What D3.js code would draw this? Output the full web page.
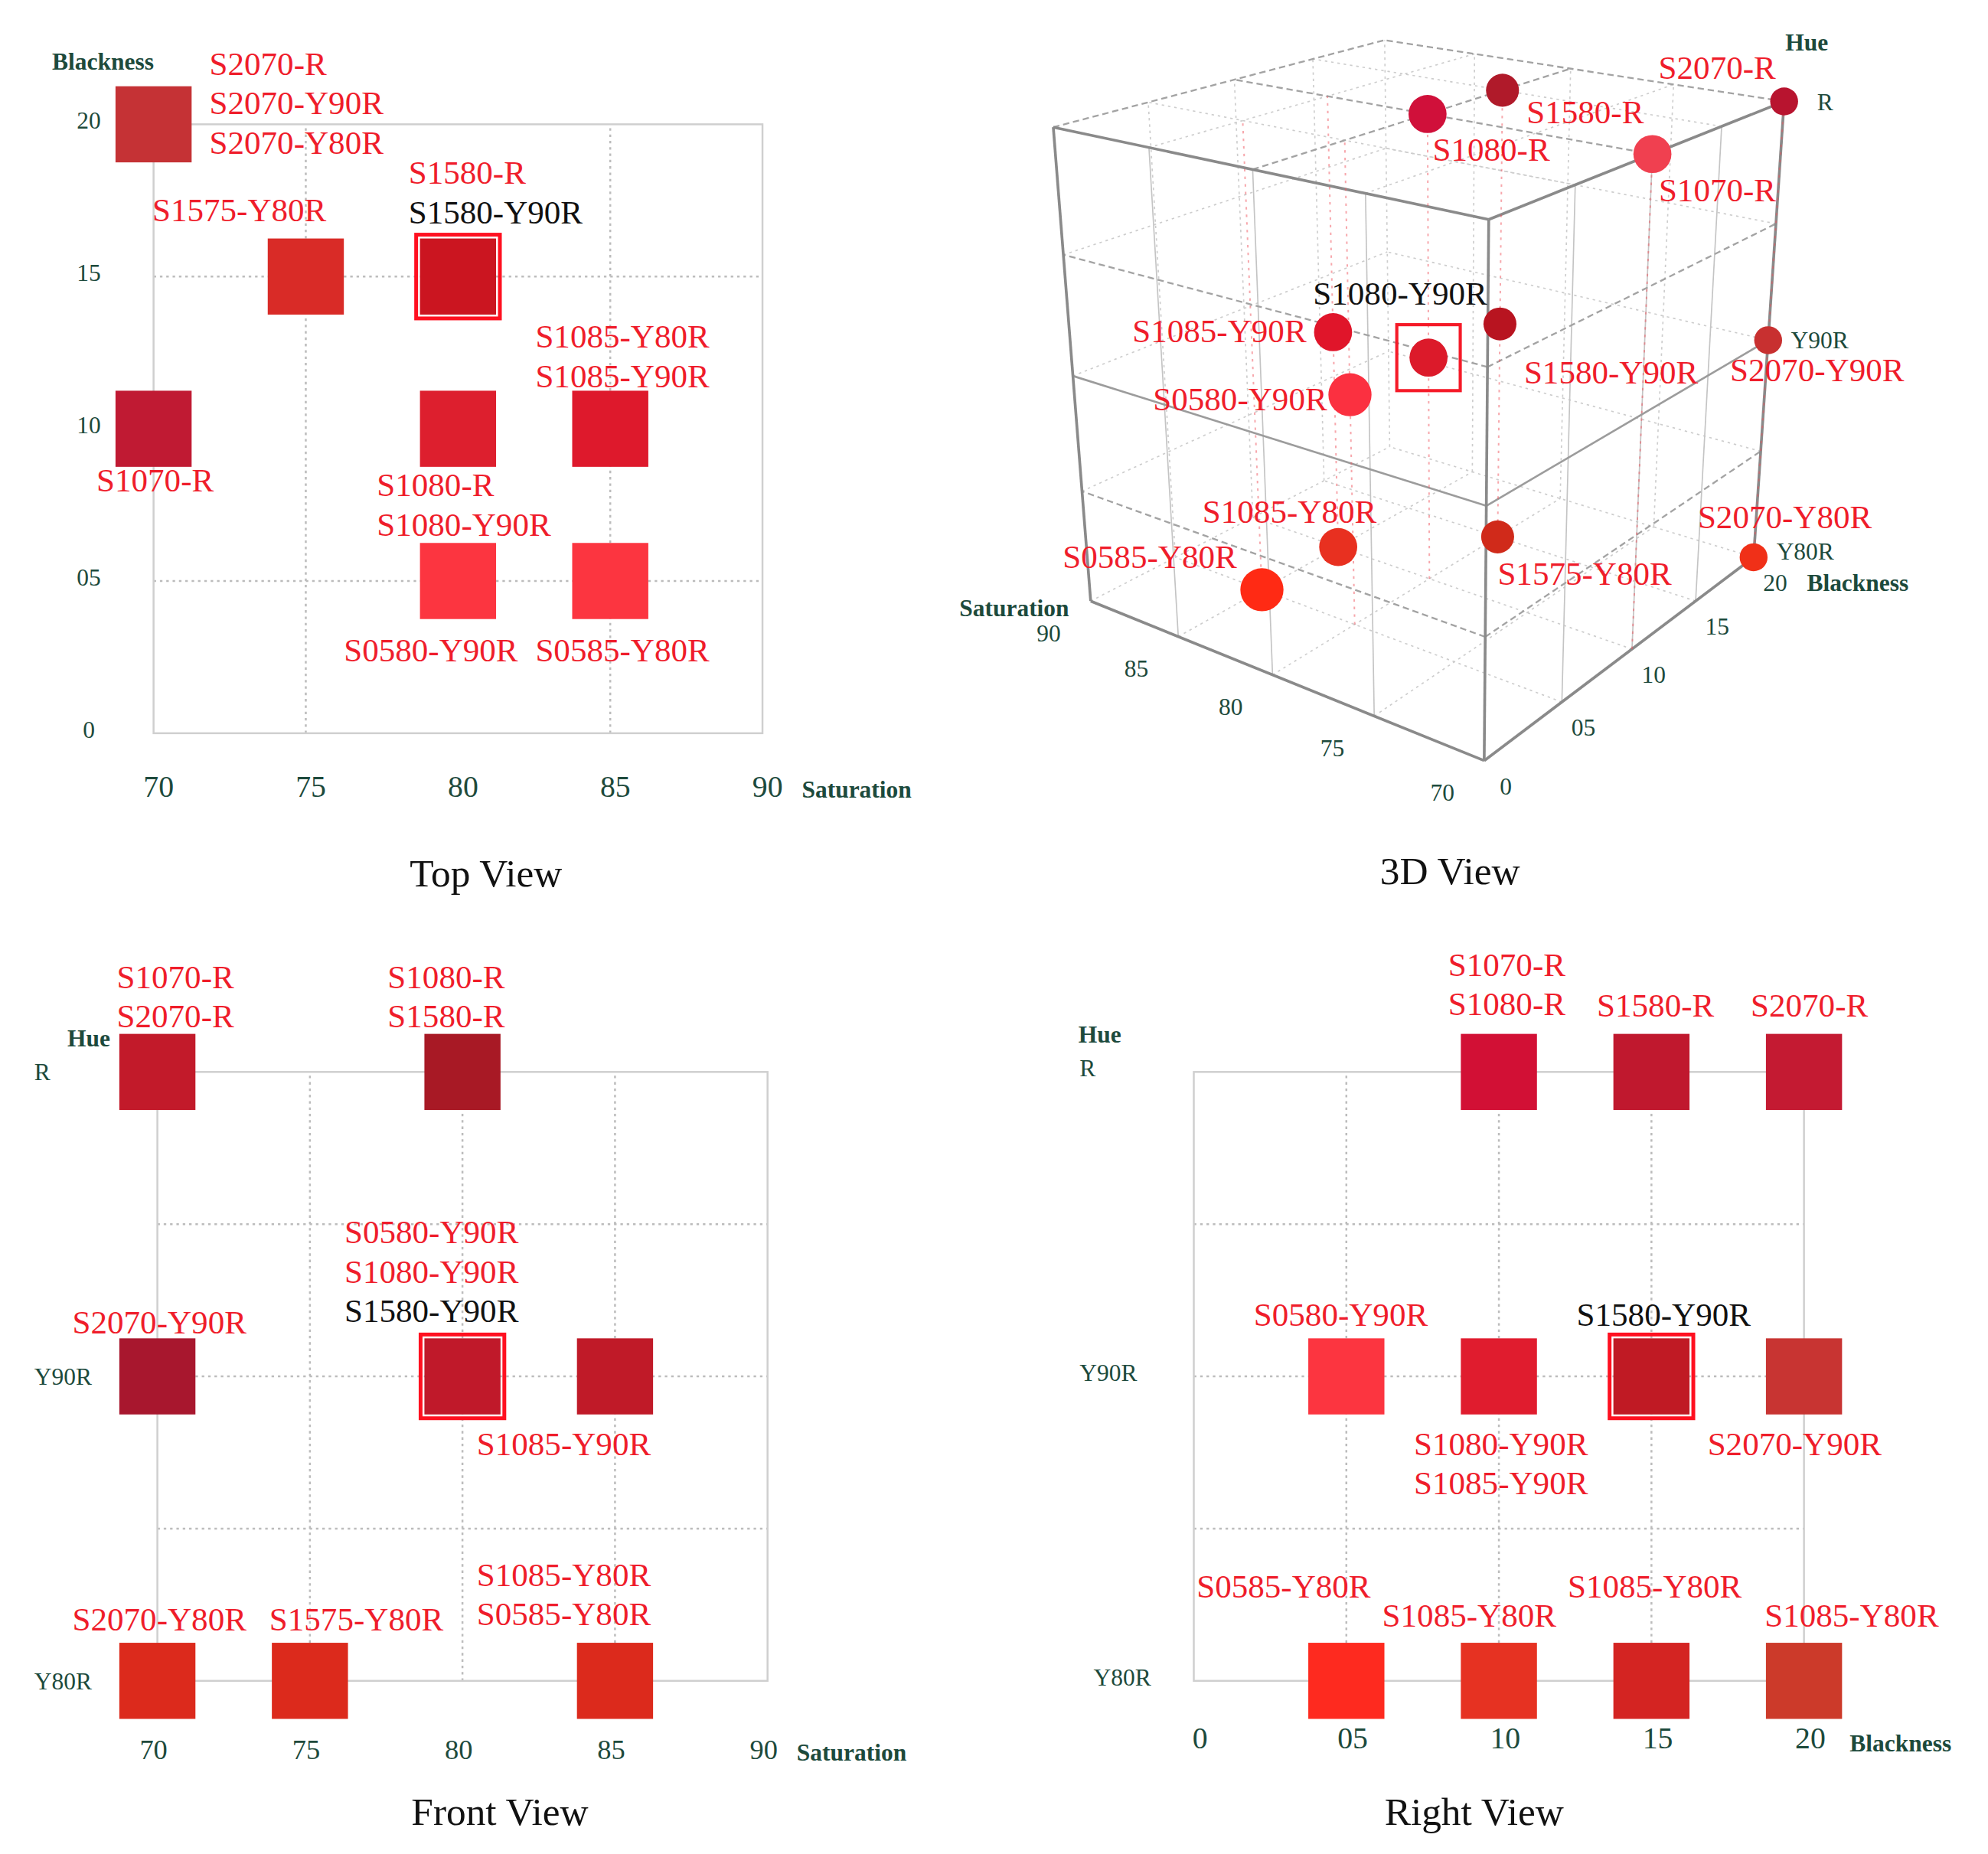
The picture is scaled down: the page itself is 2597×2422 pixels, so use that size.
<!DOCTYPE html>
<html>
<head>
<meta charset="utf-8">
<script src="https://cdn.jsdelivr.net/npm/d3@7/dist/d3.min.js"></script>
<style>
  body { margin: 0; background: #fff; }
  svg { display: block; }
</style>
</head>
<body>
<svg id="chart"></svg>
<script>
// NCS samples: blackness, saturation (chromaticness), hue
const samples    = ["S2070-R","S2070-Y90R","S2070-Y80R","S1580-R","S1580-Y90R","S1575-Y80R","S1085-Y80R","S1085-Y90R","S1070-R","S1080-R","S1080-Y90R","S0580-Y90R","S0585-Y80R"]
const saturation = [70, 70, 70, 80, 80, 75, 85, 85, 70, 80, 80, 80, 85]
const blackness  = [20, 20, 20, 15, 15, 15, 10, 10, 10, 10, 10, 5, 5]
const hue        = ["R","Y90R","Y80R","R","Y90R","Y80R","Y80R","Y90R","R","R","Y90R","Y90R","Y80R"]
// saturation at which each dot sits in the 3D view (S1575-Y80R is drawn in the 80 column there)
const saturation3D = [70, 70, 70, 80, 80, 80, 85, 85, 70, 80, 80, 80, 85]
const dotColors  = ["#b8142f","#c83030","#f03018","#b01a2a","#b81420","#d02a1a","#e83020","#e0152a","#f04050","#d0103a","#dc1a2a","#fb3040","#ff2a14"]

const hueLevels  = ["Y80R","Y90R","R"]
const satTicks   = [70, 75, 80, 85, 90]
const blackTicks = [0, 5, 10, 15, 20]
const highlightName = "S1580-Y90R"
const highlight3D   = "S1080-Y90R"

// square colours seen in each flat view
const topColors   = {"70|20":"#c53235","75|15":"#d92b27","80|15":"#cb1520","70|10":"#c01a33","80|10":"#dd1f2e","85|10":"#de192c","80|5":"#fc3540","85|5":"#fc3540"}
const frontColors = {"70|R":"#c21a2a","80|R":"#a81925","70|Y90R":"#a8172e","80|Y90R":"#c0192a","85|Y90R":"#c01a28","70|Y80R":"#dc2a1c","75|Y80R":"#dc2a1c","85|Y80R":"#dc2a1c"}
const rightColors = {"10|R":"#d21035","15|R":"#c0182e","20|R":"#c41a32","5|Y90R":"#fc3540","10|Y90R":"#e01c2e","15|Y90R":"#c01a24","20|Y90R":"#c83432","5|Y80R":"#fe2a1f","10|Y80R":"#e63222","15|Y80R":"#d42422","20|Y80R":"#cc3a2a"}

// label texts as printed in each view
const topLabels = [
  {at:[70,20], text:["S2070-R","S2070-Y90R","S2070-Y80R"]},
  {at:[80,15], text:["S1580-R","S1580-Y90R"]},
  {at:[75,15], text:["S1575-Y80R"]},
  {at:[85,10], text:["S1085-Y80R","S1085-Y90R"]},
  {at:[70,10], text:["S1070-R"]},
  {at:[80,10], text:["S1080-R","S1080-Y90R"]},
  {at:[80,5],  text:["S0580-Y90R"]},
  {at:[85,5],  text:["S0585-Y80R"]}
]
const frontLabels = [
  {at:[70,"R"],    text:["S1070-R","S2070-R"]},
  {at:[80,"R"],    text:["S1080-R","S1580-R"]},
  {at:[80,"Y90R"], text:["S0580-Y90R","S1080-Y90R","S1580-Y90R"]},
  {at:[70,"Y90R"], text:["S2070-Y90R"]},
  {at:[85,"Y90R"], text:["S1085-Y90R"]},
  {at:[70,"Y80R"], text:["S2070-Y80R"]},
  {at:[75,"Y80R"], text:["S1575-Y80R"]},
  {at:[85,"Y80R"], text:["S1085-Y80R","S0585-Y80R"]}
]
const rightLabels = [
  {at:[10,"R"],    text:["S1070-R","S1080-R"]},
  {at:[15,"R"],    text:["S1580-R"]},
  {at:[20,"R"],    text:["S2070-R"]},
  {at:[5,"Y90R"],  text:["S0580-Y90R"]},
  {at:[15,"Y90R"], text:["S1580-Y90R"]},
  {at:[10,"Y90R"], text:["S1080-Y90R","S1085-Y90R"]},
  {at:[20,"Y90R"], text:["S2070-Y90R"]},
  {at:[5,"Y80R"],  text:["S0585-Y80R"]},
  {at:[10,"Y80R"], text:["S1085-Y80R"]},
  {at:[15,"Y80R"], text:["S1085-Y80R"]},
  {at:[20,"Y80R"], text:["S1085-Y80R"]}
]

// ---- layout (offsets of label blocks from their cell, in px) ----
const topLabelPos   = [[44,-48],[-39,-82],[-121,-53],[-59,-73],[-45,40],[-64,44],[-90,54],[-59,54]]
const frontLabelPos = [[-32,-75],[-59,-75],[-93,-114],[-67,-43],[-109,53],[-67,-49],[-32,-49],[-109,-84]]
const rightLabelPos = [[-40,-85],[-43,-53],[-42,-53],[-73,-49],[-59,-49],[-67,53],[-76,53],[-118,-75],[-92,-52],[-66,-75],[-31,-52]]
const dotLabelPos = {
  "S2070-R":[-99,-27,"start"], "S1580-R":[19,17,"start"], "S1080-R":[4,28,"start"], "S1070-R":[5,28,"start"],
  "S1080-Y90R":[-91,-51,"start"], "S1085-Y90R":[-21,-1,"end"], "S0580-Y90R":[-18,3,"end"],
  "S1580-Y90R":[19,38,"start"], "S2070-Y90R":[-30,23,"start"], "S1085-Y80R":[-107,-28,"start"],
  "S0585-Y80R":[-157,-26,"start"], "S1575-Y80R":[0,29,"start"], "S2070-Y80R":[-44,-32,"start"]
}
// projected cube corners of the 3D view: [u, v, w, x, y]
const cubeCorners = [
  [0,0,0,1170.4,599.5],[1,0,0,859.9,473.7],[0,1,0,1382.4,439.5],[1,1,0,1094.8,352.2],
  [0,0,1,1173.2,173.4],[1,0,1,829.8,100.2],[0,1,1,1406.0,79.5],[1,1,1,1092.3,31.8]
]

const SERIF = "'Liberation Serif','Times New Roman',serif"
const RED = "#ef1d2b", GREEN = "#1d4a3c", LINE = 31

const rows = samples.map((name, i) => ({
  name, sat: saturation[i], sat3: saturation3D[i], black: blackness[i], hue: hue[i], color: dotColors[i]
}))
const tickText = d => (d > 0 && d < 10) ? "0" + d : String(d)

const svg = d3.select("#chart")
  .attr("width", 2597).attr("height", 2422)
  .attr("viewBox", "0 0 1567 1461.5")
  .attr("font-family", SERIF)

function txt(g, x, y, s, size, fill, opts = {}) {
  return g.append("text")
    .attr("x", x).attr("y", y).attr("dy", "0.35em")
    .attr("font-size", size).attr("fill", fill)
    .attr("font-weight", opts.bold ? "bold" : null)
    .attr("text-anchor", opts.anchor || "start")
    .text(s)
}

// ---------- flat views ----------
function flatView(o) {
  const g = svg.append("g")
  const [x0, x1] = o.x.range(), [yb, yt] = o.yLin.range()

  g.selectAll("line.gx").data(o.xGrid).join("line")
      .attr("x1", o.x).attr("x2", o.x).attr("y1", yb).attr("y2", yt)
      .attr("stroke", "#bcbcbc").attr("stroke-width", 1.5).attr("stroke-dasharray", "2,3")
  g.selectAll("line.gy").data(o.yGrid).join("line")
      .attr("x1", x0).attr("x2", x1).attr("y1", o.yLin).attr("y2", o.yLin)
      .attr("stroke", "#bcbcbc").attr("stroke-width", 1.5).attr("stroke-dasharray", "2,3")
  g.append("rect")
      .attr("x", x0).attr("y", yt).attr("width", x1 - x0).attr("height", yb - yt)
      .attr("fill", "none").attr("stroke", "#cfcfcf").attr("stroke-width", 1.5)

  const cells = d3.groups(rows, o.key).map(([k, m]) => ({
    k, cx: o.x(o.xv(m[0])), cy: o.y(o.yv(m[0])), hl: m.some(d => d.name === highlightName)
  }))
  g.selectAll("rect.sq").data(cells).join("rect")
      .attr("x", d => d.cx - 30).attr("y", d => d.cy - 30)
      .attr("width", 60).attr("height", 60)
      .attr("fill", d => o.colors[d.k])
  g.selectAll("rect.hl").data(cells.filter(d => d.hl)).join("rect")
      .attr("x", d => d.cx - 33).attr("y", d => d.cy - 33)
      .attr("width", 66).attr("height", 66)
      .attr("fill", "none").attr("stroke", "#ff1020").attr("stroke-width", 3)

  o.labels.forEach((lab, i) => {
    const [dx, dy] = o.labelPos[i]
    const cx = o.x(lab.at[0]), cy = o.y(lab.at[1])
    lab.text.forEach((t, j) =>
      txt(g, cx + dx, cy + dy + j * LINE, t, 26, t === highlightName ? "#111" : RED))
  })
  return g
}

// Top view
{
  const x = d3.scaleLinear([70, 90], [121, 601])
  const y = d3.scaleLinear([0, 20], [578, 98])
  const g = flatView({x, y, yLin: y, xGrid: [75, 85], yGrid: [5, 15],
    key: d => d.sat + "|" + d.black, xv: d => d.sat, yv: d => d.black,
    colors: topColors, labels: topLabels, labelPos: topLabelPos})
  satTicks.forEach(t => txt(g, x(t) + 4, 620, t, 24, GREEN, {anchor: "middle"}))
  blackTicks.forEach(t => txt(g, 70, y(t) - 3, tickText(t), 19, GREEN, {anchor: "middle"}))
  txt(g, 41, 48, "Blackness", 19, GREEN, {bold: true})
  txt(g, 632, 622, "Saturation", 19, GREEN, {bold: true})
  txt(g, 383, 688, "Top View", 31, "#111", {anchor: "middle"})
}

// Front view
{
  const x = d3.scaleLinear([70, 90], [124, 605])
  const y = d3.scalePoint(hueLevels, [1325, 845])
  const yLin = d3.scaleLinear([0, 2], [1325, 845])
  const g = flatView({x, y, yLin, xGrid: [75, 80, 85], yGrid: [0.5, 1, 1.5],
    key: d => d.sat + "|" + d.hue, xv: d => d.sat, yv: d => d.hue,
    colors: frontColors, labels: frontLabels, labelPos: frontLabelPos})
  satTicks.forEach(t => txt(g, x(t) - 3, 1379, t, 22, GREEN, {anchor: "middle"}))
  hueLevels.forEach(h => txt(g, 27, y(h), h, 19, GREEN))
  txt(g, 53, 818, "Hue", 19, GREEN, {bold: true})
  txt(g, 628, 1381, "Saturation", 19, GREEN, {bold: true})
  txt(g, 394, 1428, "Front View", 31, "#111", {anchor: "middle"})
}

// Right view
{
  const x = d3.scaleLinear([0, 20], [941, 1422])
  const y = d3.scalePoint(hueLevels, [1325, 845])
  const yLin = d3.scaleLinear([0, 2], [1325, 845])
  const g = flatView({x, y, yLin, xGrid: [5, 10, 15], yGrid: [0.5, 1, 1.5],
    key: d => d.black + "|" + d.hue, xv: d => d.black, yv: d => d.hue,
    colors: rightColors, labels: rightLabels, labelPos: rightLabelPos})
  blackTicks.forEach(t => txt(g, x(t) + 5, 1370, tickText(t), 24, GREEN, {anchor: "middle"}))
  hueLevels.forEach(h => txt(g, h === "Y80R" ? 862 : 851, y(h) - 3, h, 19, GREEN))
  txt(g, 850, 815, "Hue", 19, GREEN, {bold: true})
  txt(g, 1458, 1374, "Blackness", 19, GREEN, {bold: true})
  txt(g, 1162, 1428, "Right View", 31, "#111", {anchor: "middle"})
}

// ---------- 3D view ----------
// perspective camera fitted (DLT, least squares) to the cube corners
function fitProjection(pts) {
  const cx = 1100, cy = 300, s = 300
  const A = [], b = []
  pts.forEach(([u, v, w, X, Y]) => {
    const x = (X - cx) / s, y = (Y - cy) / s
    A.push([u, v, w, 1, 0, 0, 0, 0, -x * u, -x * v, -x * w]); b.push(x)
    A.push([0, 0, 0, 0, u, v, w, 1, -y * u, -y * v, -y * w]); b.push(y)
  })
  const n = 11
  const M = d3.range(n).map(i => d3.range(n + 1).map(j =>
    j < n ? d3.sum(A, r => r[i] * r[j]) : d3.sum(A, (r, k) => r[i] * b[k])))
  for (let c = 0; c < n; c++) {
    let p = c
    for (let r = c + 1; r < n; r++) if (Math.abs(M[r][c]) > Math.abs(M[p][c])) p = r
    const tmp = M[c]; M[c] = M[p]; M[p] = tmp
    for (let r = 0; r < n; r++) {
      if (r === c) continue
      const f = M[r][c] / M[c][c]
      for (let k = c; k <= n; k++) M[r][k] -= f * M[c][k]
    }
  }
  const p = M.map((r, i) => r[n] / r[i])
  return (u, v, w) => {
    const d = p[8] * u + p[9] * v + p[10] * w + 1
    return [cx + s * (p[0] * u + p[1] * v + p[2] * w + p[3]) / d,
            cy + s * (p[4] * u + p[5] * v + p[6] * w + p[7]) / d]
  }
}

{
  const proj = fitProjection(cubeCorners)
  const su = d3.scaleLinear([70, 90], [0, 1])
  const bv = d3.scaleLinear([0, 20], [0, 1])
  const hw = d3.scalePoint(hueLevels, [0, 1])
  const rScale = d3.scaleLinear([5, 20], [17, 11])
  const g = svg.append("g")

  const q = [0.25, 0.5, 0.75]
  const faint = [], thin = [], dashed = [], mid = [], edges = []
  q.forEach(t => {
    faint.push([[t,0,0],[t,1,0]], [[0,t,0],[1,t,0]])        // floor
    faint.push([[1,t,0],[1,t,1]], [[1,0,t],[1,1,t]])        // back wall, sat 90
    faint.push([[t,1,0],[t,1,1]], [[0,1,t],[1,1,t]])        // back wall, blackness 20
    thin.push([[t,0,0],[t,0,1]], [[0,t,0],[0,t,1]])         // front walls, verticals
  })
  faint.push([[1,0,0],[1,1,0]], [[0,1,0],[1,1,0]], [[1,1,0],[1,1,1]])
  ;[0.25, 0.75].forEach(t => {
    faint.push([[t,0,1],[t,1,1]], [[0,t,1],[1,t,1]])        // top face
    dashed.push([[0,0,t],[1,0,t]], [[0,0,t],[0,1,t]])       // front walls
  })
  dashed.push([[0.5,0,1],[0.5,1,1]], [[0,0.5,1],[1,0.5,1]], [[1,0,1],[1,1,1]], [[0,1,1],[1,1,1]])
  mid.push([[0,0,0.5],[1,0,0.5]], [[0,0,0.5],[0,1,0.5]])
  edges.push([[0,0,0],[0,0,1]], [[1,0,0],[1,0,1]], [[0,1,0],[0,1,1]],
             [[0,0,1],[1,0,1]], [[0,0,1],[0,1,1]], [[0,0,0],[1,0,0]], [[0,0,0],[0,1,0]])

  const sets = [
    {segs: faint,  stroke: "#cdcdcd", w: 1,   dash: "2,3"},
    {segs: thin,   stroke: "#c4c4c4", w: 1,   dash: null},
    {segs: dashed, stroke: "#a3a3a3", w: 1.4, dash: "5,3"},
    {segs: mid,    stroke: "#9c9c9c", w: 1.6, dash: null},
    {segs: edges,  stroke: "#8a8a8a", w: 2.2, dash: null}
  ]
  sets.forEach(set => {
    g.append("g").selectAll("line").data(set.segs).join("line")
      .attr("x1", d => proj(...d[0])[0]).attr("y1", d => proj(...d[0])[1])
      .attr("x2", d => proj(...d[1])[0]).attr("y2", d => proj(...d[1])[1])
      .attr("stroke", set.stroke).attr("stroke-width", set.w)
      .attr("stroke-dasharray", set.dash)
  })

  // red dotted columns through the samples
  const columns = d3.groups(rows, d => d.sat3 + "|" + d.black).map(([, m]) => m[0])
  g.append("g").selectAll("line").data(columns).join("line")
    .attr("x1", d => proj(su(d.sat3), bv(d.black), 0)[0]).attr("y1", d => proj(su(d.sat3), bv(d.black), 0)[1])
    .attr("x2", d => proj(su(d.sat3), bv(d.black), 1)[0]).attr("y2", d => proj(su(d.sat3), bv(d.black), 1)[1])
    .attr("stroke", "#f0505a").attr("stroke-opacity", 0.5)
    .attr("stroke-width", 1.2).attr("stroke-dasharray", "2,4")

  const pos = d => proj(su(d.sat3), bv(d.black), hw(d.hue))
  const dots = rows.slice().sort((a, b) => b.black - a.black)
  g.append("g").selectAll("circle").data(dots).join("circle")
    .attr("cx", d => pos(d)[0]).attr("cy", d => pos(d)[1])
    .attr("r", d => rScale(d.black))
    .attr("fill", d => d.color)

  g.append("g").selectAll("rect").data(rows.filter(d => d.name === highlight3D)).join("rect")
    .attr("x", d => pos(d)[0] - 25).attr("y", d => pos(d)[1] - 26)
    .attr("width", 50).attr("height", 52)
    .attr("fill", "none").attr("stroke", "#f51a28").attr("stroke-width", 2.5)

  rows.forEach(d => {
    const [x, y] = pos(d), [dx, dy, anchor] = dotLabelPos[d.name]
    txt(g, x + dx, y + dy, d.name, 26, d.name === highlight3D ? "#111" : RED, {anchor})
  })

  // axes
  satTicks.forEach(t => {
    const [x, y] = proj(su(t), 0, 0)
    txt(g, x - 33, y + 25, t, 19, GREEN, {anchor: "middle"})
  })
  blackTicks.forEach(t => {
    const [x, y] = proj(0, bv(t), 0)
    txt(g, x + 17, y + 20, tickText(t), 19, GREEN, {anchor: "middle"})
  })
  const s90 = proj(1, 0, 0)
  txt(g, s90[0] - 17, s90[1] + 5, "Saturation", 19, GREEN, {bold: true, anchor: "end"})
  const b20 = proj(0, 1, 0)
  txt(g, b20[0] + 42, b20[1] + 20, "Blackness", 19, GREEN, {bold: true})
  hueLevels.forEach(h => {
    const [x, y] = proj(0, 1, hw(h))
    txt(g, x + (h === "R" ? 26 : 18), y + (h === "Y80R" ? -5 : 0), h, 19, GREEN)
  })
  const rTop = proj(0, 1, 1)
  txt(g, rTop[0] + 1, rTop[1] - 47, "Hue", 19, GREEN, {bold: true})
  txt(g, 1143, 686, "3D View", 31, "#111", {anchor: "middle"})
}
</script>
</body>
</html>
